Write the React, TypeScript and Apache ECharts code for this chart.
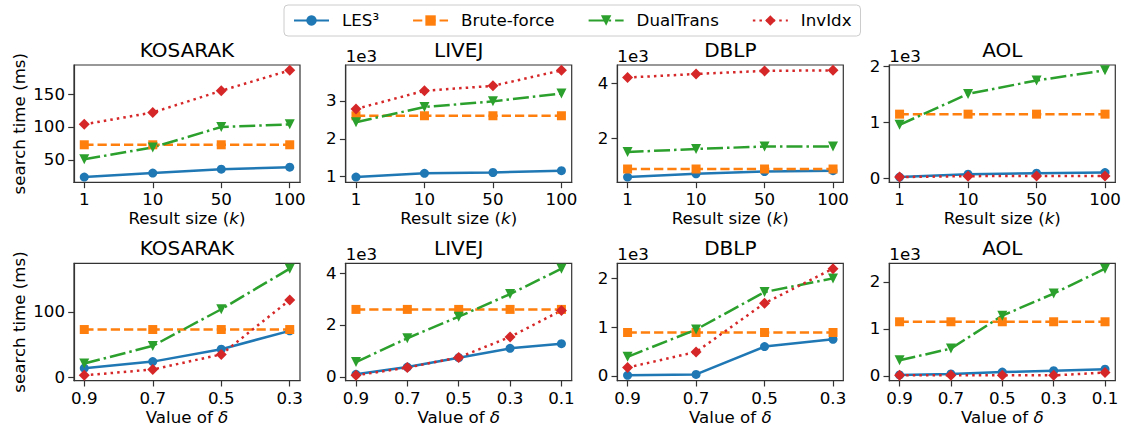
import React, { useEffect, useRef } from "react";
import * as echarts from "echarts";

// ---------- data ----------
const seriesNames = ["LES³", "Brute-force", "DualTrans", "InvIdx"];
const datasetNames = ["KOSARAK", "LIVEJ", "DBLP", "AOL"];

const kLabels = ["1", "10", "50", "100"];
const deltaLabels4 = ["0.9", "0.7", "0.5", "0.3"];
const deltaLabels5 = ["0.9", "0.7", "0.5", "0.3", "0.1"];

// Row 1: search time (ms) vs result size k ; order: LES3, Brute-force, DualTrans, InvIdx
const kosarakByK = [
  [24, 30, 36, 39],
  [73, 73, 73, 73],
  [51, 69, 100, 104],
  [104, 122, 155, 186],
];
const livejByK = [
  [990, 1090, 1110, 1160],
  [2610, 2610, 2610, 2610],
  [2440, 2840, 2990, 3200],
  [2790, 3270, 3400, 3810],
];
const dblpByK = [
  [620, 740, 820, 850],
  [910, 910, 910, 910],
  [1520, 1630, 1720, 1720],
  [4200, 4330, 4440, 4460],
];
const aolByK = [
  [30, 80, 100, 110],
  [1150, 1150, 1150, 1150],
  [960, 1510, 1750, 1930],
  [30, 46, 50, 50],
];

// Row 2: search time (ms) vs delta
const kosarakByDelta = [
  [14, 24, 43, 71],
  [73, 73, 73, 73],
  [21, 48, 104, 166],
  [3, 12, 35, 118],
];
const livejByDelta = [
  [100, 380, 740, 1100, 1280],
  [2600, 2600, 2600, 2600, 2600],
  [570, 1490, 2320, 3190, 4170],
  [60, 360, 750, 1540, 2560],
];
const dblpByDelta = [
  [10, 30, 600, 750],
  [890, 890, 890, 890],
  [390, 950, 1720, 2000],
  [170, 490, 1490, 2200],
];
const aolByDelta = [
  [20, 40, 80, 110, 140],
  [1150, 1150, 1150, 1150, 1150],
  [330, 580, 1280, 1750, 2280],
  [10, 10, 10, 10, 70],
];

// y tick values per panel
const kosarakByKTicks = [50, 100, 150];
const livejByKTicks = [1000, 2000, 3000];
const dblpByKTicks = [2000, 4000];
const aolByKTicks = [0, 1000, 2000];
const kosarakByDeltaTicks = [0, 100];
const livejByDeltaTicks = [0, 2000, 4000];
const dblpByDeltaTicks = [0, 1000, 2000];
const aolByDeltaTicks = [0, 1000, 2000];

// ---------- layout / style ----------
const COL_LEFT = [74, 345.7, 617.3, 889.3];
const ROW_TOP = [65, 263.3];
const W = 226;
const H = 117.4;
const FONT = "DejaVu Sans";
const FS = 16.67;
const COLORS = ["#1f77b4", "#ff7f0e", "#2ca02c", "#d62728"];
const SYMBOLS = ["circle", "rect", "triangle", "diamond"];
const SYMBOL_SIZE = [9, 9, 10, 11];
const SYMBOL_ROTATE = [0, 0, 180, 0];
const DASHES: any[] = ["solid", [9.25, 4], [16, 4, 2.5, 4], [2.5, 4.1]];
const AXIS_COLOR = "#333";

type Panel = {
  title: string;
  labels: string[];
  data: number[][];
  ticks: number[];
  scaled: boolean;
  xName: string;
};

const panels: Panel[] = [
  { title: datasetNames[0], labels: kLabels, data: kosarakByK, ticks: kosarakByKTicks, scaled: false, xName: "k" },
  { title: datasetNames[1], labels: kLabels, data: livejByK, ticks: livejByKTicks, scaled: true, xName: "k" },
  { title: datasetNames[2], labels: kLabels, data: dblpByK, ticks: dblpByKTicks, scaled: true, xName: "k" },
  { title: datasetNames[3], labels: kLabels, data: aolByK, ticks: aolByKTicks, scaled: true, xName: "k" },
  { title: datasetNames[0], labels: deltaLabels4, data: kosarakByDelta, ticks: kosarakByDeltaTicks, scaled: false, xName: "d" },
  { title: datasetNames[1], labels: deltaLabels5, data: livejByDelta, ticks: livejByDeltaTicks, scaled: true, xName: "d" },
  { title: datasetNames[2], labels: deltaLabels4, data: dblpByDelta, ticks: dblpByDeltaTicks, scaled: true, xName: "d" },
  { title: datasetNames[3], labels: deltaLabels5, data: aolByDelta, ticks: aolByDeltaTicks, scaled: true, xName: "d" },
];

function buildOption() {
  const grid: any[] = [];
  const xAxis: any[] = [];
  const yAxis: any[] = [];
  const series: any[] = [];
  const title: any[] = [];
  const graphic: any[] = [];

  panels.forEach((p, i) => {
    const r = Math.floor(i / 4);
    const c = i % 4;
    const left = COL_LEFT[c];
    const top = ROW_TOP[r];
    grid.push({
      left,
      top,
      width: W,
      height: H,
      show: true,
      borderColor: AXIS_COLOR,
      borderWidth: 1.2,
      backgroundColor: "transparent",
      containLabel: false,
      outerBoundsMode: "none",
    });
    const n = p.labels.length;
    const idx = p.labels.map((_, j) => j);
    xAxis.push({
      type: "value",
      gridIndex: i,
      min: -0.05 * (n - 1),
      max: (n - 1) * 1.05,
      splitLine: { show: false },
      axisLine: { show: true, onZero: false, lineStyle: { color: AXIS_COLOR, width: 1.2 } },
      axisTick: { show: true, customValues: idx, length: 5.8, lineStyle: { color: AXIS_COLOR, width: 1.2 } },
      axisLabel: {
        show: true,
        customValues: idx,
        formatter: (v: number) => p.labels[Math.round(v)],
        color: "#000",
        fontFamily: FONT,
        fontSize: FS,
        margin: 9,
      },
      name: p.xName === "k" ? "Result size ({i|k})" : "Value of {i|δ}",
      nameLocation: "middle",
      nameGap: 28,
      nameTextStyle: {
        color: "#000",
        fontFamily: FONT,
        fontSize: FS,
        rich: { i: { fontStyle: "italic", fontFamily: FONT, fontSize: FS, color: "#000" } },
      },
    });
    const all = p.data.flat();
    const dmin = Math.min(...all);
    const dmax = Math.max(...all);
    const pad = (dmax - dmin) * 0.05;
    yAxis.push({
      type: "value",
      gridIndex: i,
      min: dmin - pad,
      max: dmax + pad,
      splitLine: { show: false },
      axisLine: { show: true, onZero: false, lineStyle: { color: AXIS_COLOR, width: 1.2 } },
      axisTick: { show: true, customValues: p.ticks, length: 5.8, lineStyle: { color: AXIS_COLOR, width: 1.2 } },
      axisLabel: {
        show: true,
        customValues: p.ticks,
        formatter: (v: number) => String(p.scaled ? Math.round(v / 100) / 10 : v),
        color: "#000",
        fontFamily: FONT,
        fontSize: FS,
        margin: 9,
      },
    });
    p.data.forEach((vals, s) => {
      series.push({
        type: "line",
        name: seriesNames[s],
        xAxisIndex: i,
        yAxisIndex: i,
        data: vals.map((v, j) => [j, v]),
        symbol: SYMBOLS[s],
        symbolSize: SYMBOL_SIZE[s],
        symbolRotate: SYMBOL_ROTATE[s],
        showSymbol: true,
        showAllSymbol: true,
        lineStyle: { color: COLORS[s], width: 2.5, type: DASHES[s] },
        itemStyle: { color: COLORS[s], borderWidth: 0 },
        emphasis: { disabled: true },
        silent: true,
      });
    });
    title.push({
      text: p.title,
      left: left + W / 2,
      top: top - 25,
      textAlign: "center",
      padding: 0,
      textStyle: { fontFamily: FONT, fontSize: 20, fontWeight: "normal", color: "#000" },
    });
    if (p.scaled) {
      graphic.push({
        type: "text",
        left: left,
        top: top - 17,
        style: { text: "1e3", fontFamily: FONT, fontSize: FS, fill: "#000" },
      });
    }
  });

  ROW_TOP.forEach((top) => {
    graphic.push({
      type: "text",
      x: 19.5,
      y: top + H / 2,
      rotation: Math.PI / 2,
      style: {
        text: "search time (ms)",
        fontFamily: FONT,
        fontSize: FS,
        fill: "#000",
        align: "center",
        verticalAlign: "middle",
      },
    });
  });

  return {
    animation: false,
    backgroundColor: "#fff",
    textStyle: { fontFamily: FONT },
    title,
    grid,
    xAxis,
    yAxis,
    series,
    graphic,
    legend: {
      data: seriesNames,
      left: 284,
      top: 5,
      orient: "horizontal",
      itemWidth: 35,
      itemHeight: 13,
      itemGap: 33,
      padding: [7, 9, 7, 9],
      borderColor: "#cccccc",
      borderWidth: 1,
      borderRadius: 4,
      backgroundColor: "rgba(255,255,255,0.8)",
      textStyle: { fontFamily: FONT, fontSize: FS, color: "#000", padding: [0, 0, 0, 8] },
      selectedMode: false,
    },
  };
}

export default function App() {
  const ref = useRef<HTMLDivElement>(null);
  useEffect(() => {
    document.body.style.margin = "0";
    const chart = echarts.init(ref.current!, undefined, { renderer: "svg" });
    chart.setOption(buildOption() as any);
    return () => chart.dispose();
  }, []);
  return <div ref={ref} style={{ width: 1127, height: 434 }} />;
}
